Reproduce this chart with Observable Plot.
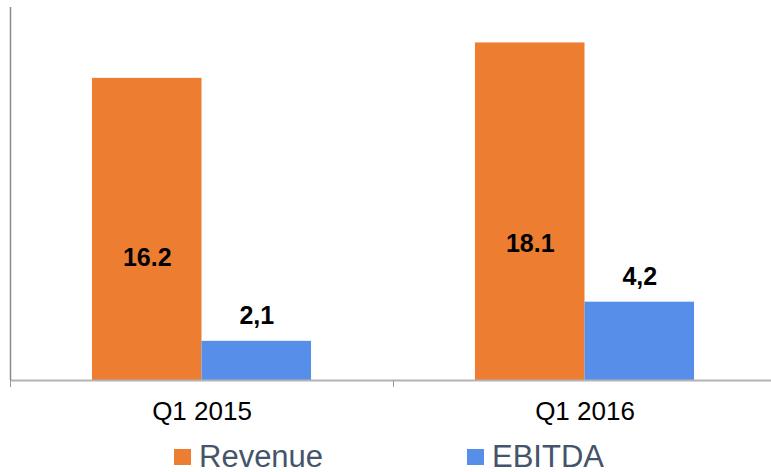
<!DOCTYPE html>
<html>
<head>
<meta charset="utf-8">
<script src="https://cdn.jsdelivr.net/npm/d3@7"></script>
<script src="https://cdn.jsdelivr.net/npm/@observablehq/plot@0.6"></script>
<style>
  html, body { margin: 0; padding: 0; background: #fff; overflow: hidden; }
  #chart svg { display: block; }
  .legend { display: flex; align-items: center; height: 30px; line-height: 30px; margin-left: 174px; font-family: "Liberation Sans", Arial, sans-serif; font-size: 31px; color: #44546a; }
  .legend .item { display: flex; align-items: center; }
  .legend .item:first-child { width: 293px; }
  .legend .sw { width: 17px; height: 16px; margin-right: 8px; }
</style>
</head>
<body>
<div id="chart"></div>
<div class="legend" id="legend"></div>
<script>
const quarters = ["Q1 2015", "Q1 2016"];
const seriesNames = ["Revenue", "EBITDA"];
const revenue = [16.2, 18.1];
const ebitda = [2.1, 4.2];
const revenueLabels = ["16.2", "18.1"];
const ebitdaLabels = ["2,1", "4,2"];
const colors = ["#ED7D31", "#568EE9"];

const groupWidth = 0.572; // share of each quarter's band taken by the two bars
const barW = groupWidth / 2;

const rows = quarters.flatMap((q, i) => [
  {i, q, series: "Revenue", k: 0, value: revenue[i], label: revenueLabels[i]},
  {i, q, series: "EBITDA", k: 1, value: ebitda[i], label: ebitdaLabels[i]}
]);
const x1 = d => d.i + 0.5 - groupWidth / 2 + d.k * barW;
const x2 = d => x1(d) + barW;
const xc = d => x1(d) + barW / 2;

const chart = Plot.plot({
  width: 771,
  height: 442,
  marginLeft: 10,
  marginRight: 0,
  marginTop: 7,
  marginBottom: 62,
  style: {fontFamily: "'Liberation Sans', Arial, sans-serif", background: "#fff"},
  x: {domain: [0, quarters.length], range: [10, 776], axis: null},
  y: {domain: [0, 20], axis: null},
  color: {domain: seriesNames, range: colors},
  marks: [
    Plot.rectY(rows, {x1, x2, y: "value", fill: "series"}),
    Plot.ruleY([0], {stroke: "#b3b3b3", strokeWidth: 2}),
    Plot.ruleX([0], {y1: 0, y2: 20, stroke: "#8c8c8c", strokeWidth: 1.5}),
    Plot.axisX({ticks: d3.range(quarters.length + 1), tickSize: 7, tickFormat: () => "", stroke: "#9a9a9a"}),
    Plot.axisX({ticks: quarters.map((q, i) => i + 0.5), tickSize: 0, tickPadding: 21,
      tickFormat: d => quarters[Math.floor(d)], fontSize: 26, fill: "#000"}),
    Plot.text(rows.filter(d => d.k === 0), {x: xc, y: d => d.value * 0.405, text: "label",
      fontSize: 25, fontWeight: "bold", fill: "#000"}),
    Plot.text(rows.filter(d => d.k === 1), {x: xc, y: "value", dy: -25, text: "label",
      fontSize: 25, fontWeight: "bold", fill: "#000"})
  ]
});
document.getElementById("chart").appendChild(chart);

const legend = document.getElementById("legend");
seriesNames.forEach((s, i) => {
  const item = document.createElement("div");
  item.className = "item";
  const sw = document.createElement("span");
  sw.className = "sw";
  sw.style.background = colors[i];
  const t = document.createElement("span");
  t.textContent = s;
  item.appendChild(sw);
  item.appendChild(t);
  legend.appendChild(item);
});
</script>
</body>
</html>
